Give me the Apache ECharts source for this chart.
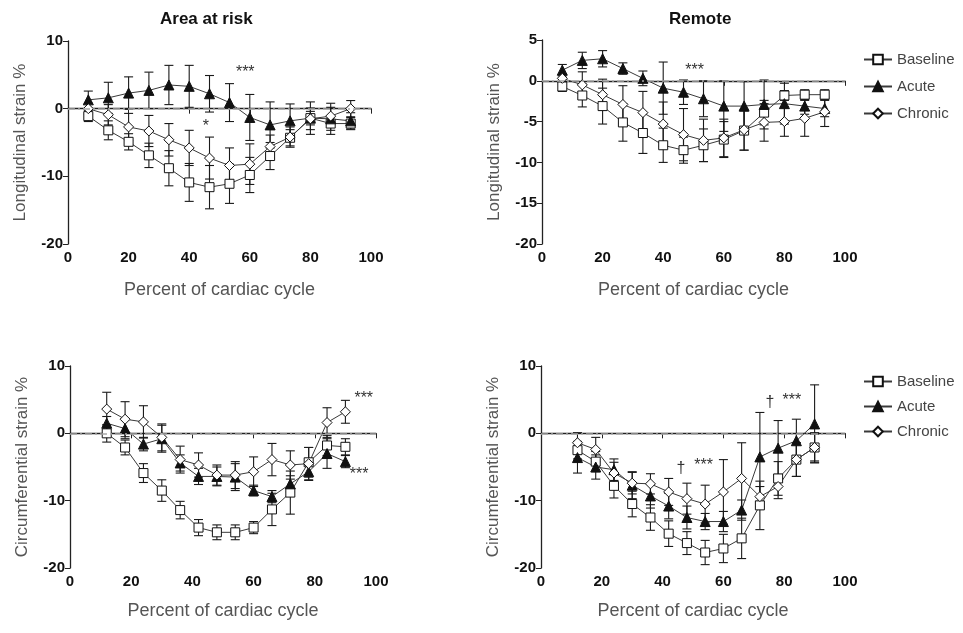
<!DOCTYPE html>
<html lang="en">
<head>
    <meta charset="UTF-8">
    <title>Strain curves</title>
    <script src="https://cdn.jsdelivr.net/npm/echarts@6/dist/echarts.min.js"></script>
    <style>
        html, body { margin: 0; padding: 0; background: #fff; }
        #chart { width: 963px; height: 633px; }
    </style>
</head>
<body>
    <div id="chart"></div>
    <script>
        // x positions (percent of cardiac cycle)
        var xLong = [6.7, 13.3, 20, 26.7, 33.3, 40, 46.7, 53.3, 60, 66.7, 73.3, 80, 86.7, 93.3];
        var xCirc = [12, 18, 24, 30, 36, 42, 48, 54, 60, 66, 72, 78, 84, 90];

        // area at risk - longitudinal
        var aarLongBase = [-1.1, -3.2, -4.9, -6.9, -8.8, -10.9, -11.6, -11.1, -9.8, -7.0, -4.3, -1.4, -2.2, -2.2];
        var aarLongBaseSd = [0.8, 1.4, 1.2, 1.8, 2.6, 2.8, 3.2, 2.9, 2.6, 2.0, 1.2, 1.0, 1.0, 0.9];
        var aarLongAcute = [1.3, 1.6, 2.3, 2.7, 3.5, 3.3, 2.2, 0.9, -1.3, -2.4, -1.8, -1.4, -1.5, -1.8];
        var aarLongAcuteSd = [1.3, 2.3, 2.4, 2.7, 2.9, 3.1, 2.7, 2.8, 3.4, 3.4, 2.5, 2.4, 2.3, 1.2];
        var aarLongChron = [0.0, -0.9, -2.7, -3.3, -4.6, -5.8, -7.3, -8.4, -8.2, -5.6, -4.2, -1.5, -1.1, 0.0];
        var aarLongChronSd = [0.8, 1.5, 2.0, 2.3, 2.4, 2.6, 3.1, 2.6, 3.0, 1.7, 1.5, 1.6, 1.3, 1.2];

        // remote - longitudinal
        var rLongBase = [-0.7, -1.8, -3.1, -5.1, -6.4, -7.9, -8.5, -7.9, -7.2, -6.1, -3.9, -1.8, -1.7, -1.7];
        var rLongBaseSd = [0.6, 1.4, 2.2, 2.3, 2.5, 2.1, 1.6, 2.0, 2.2, 2.4, 1.5, 0.6, 0.6, 0.6];
        var rLongAcute = [1.3, 2.5, 2.7, 1.5, 0.3, -0.9, -1.4, -2.2, -3.1, -3.1, -2.9, -2.8, -3.1, -3.4];
        var rLongAcuteSd = [0.7, 1.0, 1.0, 0.7, 0.9, 3.2, 1.5, 2.2, 3.1, 3.0, 3.0, 2.5, 1.0, 1.0];
        var rLongChron = [0.3, -0.5, -1.7, -2.9, -3.9, -5.3, -6.6, -7.3, -7.0, -6.0, -5.1, -5.0, -4.6, -3.8];
        var rLongChronSd = [0.5, 1.6, 1.9, 2.3, 2.6, 2.7, 3.2, 2.6, 2.3, 2.5, 2.3, 1.8, 2.2, 1.8];

        // area at risk - circumferential
        var aarCircBase = [0.0, -2.1, -5.9, -8.5, -11.4, -14.0, -14.7, -14.7, -14.0, -11.3, -8.8, -4.3, -1.8, -2.0];
        var aarCircBaseSd = [1.3, 1.1, 1.4, 1.6, 1.3, 1.2, 1.1, 1.1, 0.9, 2.4, 3.2, 2.2, 1.5, 1.2];
        var aarCircAcute = [1.5, 0.7, -1.6, -0.8, -4.4, -6.4, -6.4, -6.5, -8.5, -9.4, -7.5, -5.7, -3.0, -4.2];
        var aarCircAcuteSd = [1.0, 1.5, 1.0, 2.0, 1.2, 1.2, 1.4, 2.0, 0.8, 0.9, 1.2, 1.3, 2.2, 0.9];
        var aarCircChron = [3.6, 2.1, 1.7, -0.6, -3.9, -4.7, -6.2, -6.2, -5.7, -3.9, -4.7, -4.5, 1.6, 3.2];
        var aarCircChronSd = [2.5, 2.6, 2.4, 2.0, 2.0, 1.8, 1.5, 2.0, 2.2, 2.4, 2.1, 2.4, 2.2, 1.7];

        // remote - circumferential
        var rCircBase = [-2.5, -4.2, -7.8, -10.5, -12.5, -14.9, -16.3, -17.7, -17.1, -15.6, -10.7, -6.7, -3.9, -2.1];
        var rCircBaseSd = [1.3, 1.5, 1.8, 1.9, 1.9, 1.9, 1.7, 1.8, 2.1, 3.0, 3.6, 2.5, 2.5, 2.2];
        var rCircAcute = [-3.6, -5.0, -5.4, -7.7, -9.3, -10.8, -12.5, -13.1, -13.1, -11.4, -3.5, -2.2, -1.1, 1.4];
        var rCircAcuteSd = [2.3, 1.8, 1.6, 2.0, 1.8, 1.9, 1.7, 1.2, 1.5, 1.5, 6.6, 4.1, 3.2, 5.8];
        var rCircChron = [-1.4, -2.4, -5.9, -7.4, -7.5, -8.7, -9.7, -10.5, -8.7, -6.7, -9.4, -7.9, -3.9, -2.1];
        var rCircChronSd = [1.5, 1.8, 1.6, 1.6, 1.5, 2.0, 2.3, 2.8, 4.8, 5.3, 1.5, 1.8, 2.5, 2.0];

        // significance marks [x, y, text]
        var aarLongMarks = [[58.5, 5.3, '***'], [45.5, -2.6, '*']];
        var rLongMarks = [[50.4, 1.2, '***']];
        var aarCircMarks = [[96, 5.1, '***'], [94.5, -6.1, '***']];
        var rCircMarks = [[46, -5.3, '†'], [53.5, -4.8, '***'], [75.3, 4.6, '†'], [82.5, 4.9, '***']];

        var seriesNames = ['Baseline', 'Acute', 'Chronic'];
        var font = 'Liberation Sans, Arial, sans-serif';

        var myChart = echarts.init(document.getElementById('chart'));

        function pairs(xs, ys, sd) {
            return xs.map(function (x, i) {
                return sd ? [x, ys[i], sd[i]] : [x, ys[i]];
            });
        }

        // vertical error bar with caps, drawn through the axis scales
        function renderErr(params, api) {
            var x = api.value(0), y = api.value(1), e = api.value(2);
            var top = api.coord([x, y + e]);
            var bot = api.coord([x, y - e]);
            var hw = 4.5;
            var st = { stroke: '#1a1a1a', lineWidth: 1.1 };
            return {
                type: 'group',
                children: [
                    { type: 'line', shape: { x1: top[0], y1: top[1], x2: bot[0], y2: bot[1] }, style: st },
                    { type: 'line', shape: { x1: top[0] - hw, y1: top[1], x2: top[0] + hw, y2: top[1] }, style: st },
                    { type: 'line', shape: { x1: bot[0] - hw, y1: bot[1], x2: bot[0] + hw, y2: bot[1] }, style: st }
                ]
            };
        }

        var symbols = [
            { symbol: 'rect', size: 9, fill: '#fff' },
            { symbol: 'triangle', size: 10, fill: '#111' },
            { symbol: 'diamond', size: 10, fill: '#fff' }
        ];

        var series = [];

        function addPanel(gi, xs, groups, marks) {
            groups.forEach(function (g, k) {
                series.push({
                    type: 'custom',
                    name: 'err' + gi + '_' + k,
                    xAxisIndex: gi,
                    yAxisIndex: gi,
                    renderItem: renderErr,
                    encode: { x: 0, y: 1 },
                    data: pairs(xs, g[0], g[1]),
                    z: 2
                });
            });
            groups.forEach(function (g, k) {
                var s = {
                    type: 'line',
                    name: seriesNames[k],
                    xAxisIndex: gi,
                    yAxisIndex: gi,
                    data: pairs(xs, g[0]),
                    symbol: symbols[k].symbol,
                    symbolSize: symbols[k].size,
                    showAllSymbol: true,
                    lineStyle: { color: '#3a3a3a', width: 1 },
                    itemStyle: { color: symbols[k].fill, borderColor: '#111', borderWidth: 1 },
                    z: 3
                };
                if (k === 0) {
                    // zero reference line
                    s.markLine = {
                        silent: true,
                        symbol: 'none',
                        label: { show: false },
                        lineStyle: { color: '#a8a8a8', type: [7, 3, 2, 3], width: 1.6 },
                        data: [{ yAxis: 0 }]
                    };
                }
                series.push(s);
            });
            series.push({
                type: 'custom',
                name: 'marks' + gi,
                xAxisIndex: gi,
                yAxisIndex: gi,
                encode: { x: 0, y: 1 },
                data: marks.map(function (m) { return [m[0], m[1]]; }),
                renderItem: function (params, api) {
                    var p = api.coord([api.value(0), api.value(1)]);
                    return {
                        type: 'text',
                        x: p[0],
                        y: p[1],
                        style: {
                            text: marks[params.dataIndex][2],
                            fill: '#333',
                            font: '16px ' + font,
                            align: 'center',
                            verticalAlign: 'middle'
                        }
                    };
                },
                z: 4
            });
        }

        addPanel(0, xLong, [[aarLongBase, aarLongBaseSd], [aarLongAcute, aarLongAcuteSd], [aarLongChron, aarLongChronSd]], aarLongMarks);
        addPanel(1, xLong, [[rLongBase, rLongBaseSd], [rLongAcute, rLongAcuteSd], [rLongChron, rLongChronSd]], rLongMarks);
        addPanel(2, xCirc, [[aarCircBase, aarCircBaseSd], [aarCircAcute, aarCircAcuteSd], [aarCircChron, aarCircChronSd]], aarCircMarks);
        addPanel(3, xCirc, [[rCircBase, rCircBaseSd], [rCircAcute, rCircAcuteSd], [rCircChron, rCircChronSd]], rCircMarks);

        var grids = [
            { left: 68, top: 41, width: 303, height: 203 },
            { left: 542, top: 40, width: 303, height: 204 },
            { left: 70, top: 366, width: 306, height: 202 },
            { left: 541, top: 366, width: 304, height: 202 }
        ];

        var yNames = ['Longitudinal strain %', 'Longitudinal strain %', 'Circumferential strain %', 'Circumferential strain %'];
        var yRanges = [[-20, 10, 10], [-20, 5, 5], [-20, 10, 10], [-20, 10, 10]];

        var axisLine = { show: true, lineStyle: { color: '#222', width: 1.3 } };
        var tickLabel = { color: '#111', fontSize: 15, fontWeight: 'bold', fontFamily: font };
        var xNameStyle = { color: '#555', fontSize: 18, fontFamily: font };
        var yNameStyle = { color: '#555', fontSize: 17, fontFamily: font };

        var xAxes = grids.map(function (g, i) {
            return {
                type: 'value',
                gridIndex: i,
                min: 0,
                max: 100,
                interval: 20,
                name: 'Percent of cardiac cycle',
                nameLocation: 'middle',
                nameGap: i < 2 ? 37 : 34,
                nameTextStyle: xNameStyle,
                axisLine: axisLine,
                axisTick: { show: true, length: 5, lineStyle: { color: '#222' } },
                axisLabel: Object.assign({ margin: 6 }, tickLabel),
                splitLine: { show: false }
            };
        });

        var yAxes = grids.map(function (g, i) {
            return {
                type: 'value',
                gridIndex: i,
                min: yRanges[i][0],
                max: yRanges[i][1],
                interval: yRanges[i][2],
                name: yNames[i],
                nameLocation: 'middle',
                nameGap: 39,
                nameTextStyle: yNameStyle,
                axisLine: axisLine,
                axisTick: { show: true, length: 5, lineStyle: { color: '#222' } },
                axisLabel: Object.assign({ margin: 5 }, tickLabel),
                splitLine: { show: false }
            };
        });

        var legendBase = {
            data: seriesNames,
            orient: 'vertical',
            left: 858,
            itemWidth: 28,
            itemHeight: 12,
            textStyle: { color: '#444', fontSize: 15, fontFamily: font }
        };

        var titleStyle = { fontSize: 17, fontWeight: 'bold', color: '#111', fontFamily: font };

        var option = {
            animation: false,
            backgroundColor: '#fff',
            title: [
                { text: 'Area at risk', left: 155, top: 6, textStyle: titleStyle },
                { text: 'Remote', left: 664, top: 6, textStyle: titleStyle }
            ],
            legend: [
                Object.assign({ top: 47, itemGap: 12 }, legendBase),
                Object.assign({ top: 369, itemGap: 10 }, legendBase)
            ],
            grid: grids,
            xAxis: xAxes,
            yAxis: yAxes,
            series: series
        };
        myChart.setOption(option);
    </script>
</body>
</html>
